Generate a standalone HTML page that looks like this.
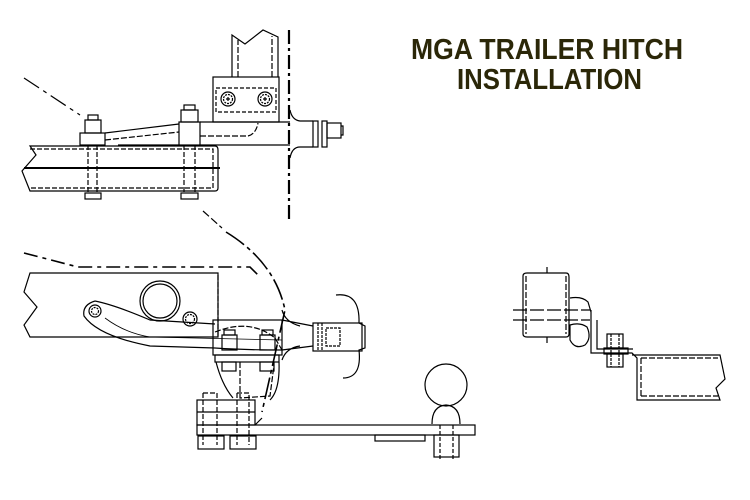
<!DOCTYPE html>
<html><head><style>
html,body{margin:0;padding:0;background:#fff;width:750px;height:500px;overflow:hidden}
svg{display:block}
</style></head><body>
<svg width="750" height="500" viewBox="0 0 750 500" xmlns="http://www.w3.org/2000/svg">
<g fill="none" stroke="#000" stroke-width="1.2">
<!-- ===== TOP VIEW ===== -->
<path d="M24,78 L80,115" stroke-dasharray="18,5,4,5"/>
<path d="M203,211 L222,228" stroke-dasharray="8,3"/>
<path d="M289,30 L289,220" stroke-width="2.2" stroke-dasharray="14,4,3,4"/>
<!-- rail -->
<path d="M30,146 L215,146 Q218,146 218,150 L218,188 Q218,191 215,191 L30,191 L22,171 L36,155 Z"/>
<path d="M30,149 L213,149 L213,188 L30,188" stroke-dasharray="5,2"/>
<path d="M24,168 L220,168" stroke-width="2"/>
<!-- left bolt -->
<rect x="80" y="133" width="25" height="12"/>
<rect x="85" y="120" width="16" height="13"/>
<rect x="88" y="115" width="10" height="5"/>
<path d="M88,145 L88,193 M97,145 L97,193" stroke-dasharray="5,2"/>
<rect x="85" y="193" width="16" height="6"/>
<!-- right bolt -->
<rect x="179" y="122" width="21" height="23"/>
<rect x="181" y="110" width="17" height="12"/>
<rect x="184" y="105" width="11" height="5"/>
<path d="M184,145 L184,193 M195,145 L195,193" stroke-dasharray="5,2"/>
<rect x="181" y="193" width="17" height="6"/>
<!-- bar -->
<path d="M105,133 L179,124"/>
<path d="M105,140 L179,132" stroke-dasharray="6,2"/>
<path d="M118,145 L179,145 M200,145 L290,145 M200,122 L290,122"/>
<path d="M200,136 L248,136 Q256,134 258,123" stroke-dasharray="6,2"/>
<!-- flare -->
<path d="M290,110 Q292,120 300,121 L313,121 M290,158 Q292,147 300,147 L313,147"/>
<rect x="313" y="121" width="5" height="26"/>
<rect x="322" y="121" width="5" height="26"/>
<rect x="327" y="123" width="14" height="15"/>
<path d="M341,126 L343,126 L343,135 L341,135"/>
<!-- bracket -->
<rect x="213" y="77" width="66" height="45"/>
<path d="M216,88 L276,88 L276,112 L216,112 Z" stroke-dasharray="4,2"/>
<circle cx="228" cy="99" r="7"/><circle cx="228" cy="99" r="4.5" stroke-dasharray="2,1"/>
<circle cx="265" cy="99" r="7"/><circle cx="265" cy="99" r="4.5" stroke-dasharray="2,1"/>
<path d="M226,99 h4 M228,97 v4 M263,99 h4 M265,97 v4"/>
<!-- upright -->
<path d="M232,77 L232,35 L245,44 L263,30 L278,37 L278,77"/>
<path d="M238,77 L238,40 M272,77 L272,36" stroke-dasharray="6,2"/>
<!-- ===== BOTTOM SIDE VIEW ===== -->
<path d="M24,253 L78,267 L250,267 L258,275" stroke-width="1.6" stroke-dasharray="14,5,4,5"/>
<path d="M226,232 Q275,262 285,310 L262,412" stroke-width="1.6" stroke-dasharray="22,4,4,4"/>
<path d="M30,273 L218,273 L218,337 L30,337 L24,325 L37,307 L24,292 Z"/>
<path d="M218,275 L218,337" stroke-dasharray="5,2"/>
<circle cx="160" cy="301" r="20"/><circle cx="160" cy="301" r="17"/>
<!-- arm -->
<circle cx="95" cy="311" r="6"/><circle cx="95" cy="311" r="3.5" stroke-dasharray="2,1"/>
<circle cx="190" cy="319" r="7"/><circle cx="190" cy="319" r="4.5" stroke-dasharray="2,1"/>
<path d="M95,301 Q82,305 84,316 Q98,336 150,346 L215,348 Q245,350 282,350"/>
<path d="M95,301 Q115,305 150,320 L215,324"/>
<path d="M105,318 Q125,333 150,337 L282,340" stroke-width="0.8"/>
<!-- bracket box -->
<rect x="213" y="320" width="69" height="35"/>
<path d="M215,332 Q250,318 275,338 L282,350" stroke-dasharray="6,2"/>
<rect x="222" y="335" width="15" height="15"/><rect x="224" y="330" width="11" height="5"/>
<rect x="260" y="335" width="15" height="15"/><rect x="262" y="330" width="11" height="5"/>
<rect x="215" y="355" width="64" height="7"/>
<rect x="222" y="362" width="14" height="9"/><rect x="260" y="362" width="14" height="9"/>
<path d="M216,362 Q222,385 233,398 M279,362 Q280,390 270,400"/>
<path d="M240,362 L240,398 L270,396 L274,365" stroke-dasharray="6,2"/>
<!-- shaft -->
<path d="M282,320 L313,326 M282,350 L313,346 M282,310 Q285,322 300,326 M282,360 Q286,348 300,346"/>
<rect x="313" y="323" width="49" height="28"/>
<path d="M318,323 L318,351 M322,323 L322,351" stroke-dasharray="3,1"/>
<rect x="326" y="328" width="14" height="18" stroke-dasharray="3,1"/>
<path d="M336,295 Q360,292 359,323 L365,326 L365,348 L359,350 Q362,378 343,378"/>
<!-- hitch plate -->
<rect x="197" y="400" width="58" height="25"/>
<path d="M197,412 L255,412"/>
<rect x="197" y="425" width="278" height="10"/>
<path d="M203,393 L217,393 L217,445 M203,393 L203,445 M237,393 L249,393 L249,445 M237,393 L237,445" stroke-dasharray="5,2"/>
<rect x="198" y="436" width="26" height="13"/><rect x="230" y="436" width="26" height="13"/>
<path d="M255,425 L262,418"/>
<rect x="375" y="435" width="50" height="6"/>
<circle cx="446" cy="385" r="21"/>
<path d="M432,424 Q432,406 446,405 Q460,406 460,424"/>
<rect x="434" y="435" width="25" height="22"/>
<path d="M440,425 L440,460 M453,425 L453,460" stroke-dasharray="4,2"/>
<!-- ===== RIGHT VIEW ===== -->
<path d="M523,276 Q523,273 527,273 L566,273 Q569,273 569,277 L569,334 Q569,337 566,337 L527,337 Q523,337 523,334 Z"/>
<path d="M526,276 L526,334 M566,276 L566,334" stroke-dasharray="6,2"/>
<path d="M547,267 L547,273 M547,337 L547,343"/>
<path d="M513,310 L590,310 M513,320 L590,320" stroke-dasharray="14,3"/>
<path d="M570,298 Q582,296 588,302 L591,312 M570,325 Q580,322 587,327 Q592,338 585,345 Q575,350 570,340 Z"/>
<path d="M591,310 L591,353 L632,353 L637,358 L637,400 L720,400 L716,388 L725,379 L720,355 L632,355"/>
<path d="M597,320 L597,349 L633,349" />
<path d="M641,358 L641,398 M641,358 L718,358 M641,396 L718,396" stroke-dasharray="6,2"/>
<rect x="604" y="348" width="24" height="6"/>
<rect x="607" y="334" width="16" height="14"/><rect x="607" y="354" width="16" height="13"/>
<path d="M611,334 L611,367 M619,334 L619,367" stroke-dasharray="3,1"/>
</g>
<g font-family="Liberation Sans, sans-serif" font-weight="bold" fill="#2b2708" font-size="29">
<text x="411" y="59" textLength="272" lengthAdjust="spacingAndGlyphs">MGA TRAILER HITCH</text>
<text x="457" y="89" textLength="185" lengthAdjust="spacingAndGlyphs">INSTALLATION</text>
</g>
</svg>
</body></html>
